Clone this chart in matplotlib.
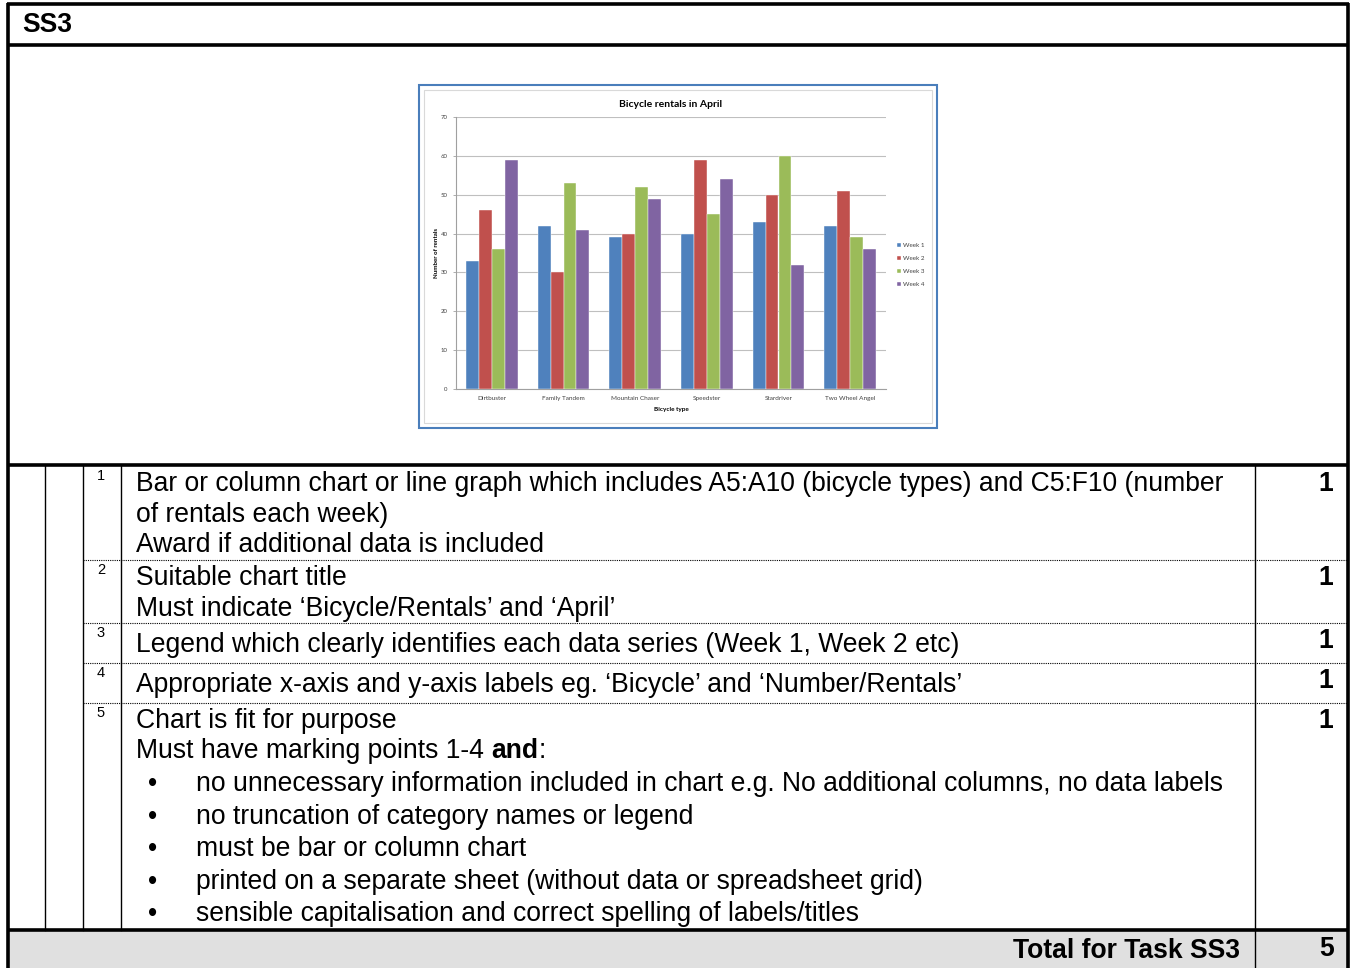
import matplotlib
matplotlib.use("Agg")
import matplotlib.pyplot as plt
import numpy as np
from matplotlib.patches import Rectangle

# ---------------- data ----------------
categories = ["Dirtbuster", "Family Tandem", "Mountain Chaser", "Speedster", "Stardriver", "Two Wheel Angel"]
series_names = ["Week 1", "Week 2", "Week 3", "Week 4"]
week1 = [33, 42, 39, 40, 43, 42]
week2 = [46, 30, 40, 59, 50, 51]
week3 = [36, 53, 52, 45, 60, 39]
week4 = [59, 41, 49, 54, 32, 36]
y_ticks = [0, 10, 20, 30, 40, 50, 60, 70]
chart_title = "Bicycle rentals in April"
x_label = "Bicycle type"
y_label = "Number of rentals"
colors = ["#4F81BD", "#C0504D", "#9BBB59", "#8064A2"]

W, H = 1354, 968
fig = plt.figure(figsize=(W / 100, H / 100), dpi=100)
ax = fig.add_axes([0, 0, 1, 1])
ax.set_xlim(0, W)
ax.set_ylim(H, 0)
ax.axis("off")

TF = "Liberation Sans"
FS = 19.1
thick = 2.6
thin = 1.0

# total row fill
ax.add_patch(Rectangle((8, 931), 1340, 40, facecolor="#e0e0e0", edgecolor="none", zorder=0))

# outer borders
ax.plot([8, 8], [3, 968], color="black", lw=thick, solid_capstyle="butt")
ax.plot([1348, 1348], [3, 968], color="black", lw=thick, solid_capstyle="butt")
for y in [4, 45, 465, 930]:
    ax.plot([7, 1349], [y, y], color="black", lw=thick, solid_capstyle="butt")
for x in [45, 83, 121]:
    ax.plot([x, x], [465, 930], color="black", lw=thin)
ax.plot([1255, 1255], [465, 968], color="black", lw=thin)
for y in [560, 623, 663, 703]:
    ax.plot([83, 1348], [y, y], color="black", lw=0.8, linestyle=(0, (1, 1)))

ax.text(22, 25, "SS3", fontsize=FS, fontweight="bold", family=TF, va="center", ha="left")

def body(x, y, s, **kw):
    return ax.text(x, y, s, fontsize=FS, family=TF, va="center", ha="left", **kw)

def sup(y, s):
    ax.text(101, y, s, fontsize=10.5, family=TF, va="center", ha="center")

def mark(y, s="1"):
    ax.text(1333, y, s, fontsize=FS, family=TF, fontweight="bold", va="center", ha="right")

TX = 136
sup(476, "1")
body(TX, 484, "Bar or column chart or line graph which includes A5:A10 (bicycle types) and C5:F10 (number")
body(TX, 515, "of rentals each week)")
body(TX, 545, "Award if additional data is included")
mark(484)

sup(570, "2")
body(TX, 578, "Suitable chart title")
body(TX, 609, "Must indicate \u2018Bicycle/Rentals\u2019 and \u2018April\u2019")
mark(578)

sup(633, "3")
body(TX, 645, "Legend which clearly identifies each data series (Week 1, Week 2 etc)")
mark(641)

sup(673, "4")
body(TX, 685, "Appropriate x-axis and y-axis labels eg. \u2018Bicycle\u2019 and \u2018Number/Rentals\u2019")
mark(681)

sup(713, "5")
body(TX, 721, "Chart is fit for purpose")
mark(721)
t1 = body(TX, 751, "Must have marking points 1-4 ")
t2 = ax.annotate("and", xy=(1, 0), xycoords=t1, fontsize=FS, family=TF, fontweight="bold",
                 va="bottom", ha="left")
ax.annotate(":", xy=(1, 0), xycoords=t2, fontsize=FS, family=TF, va="bottom", ha="left")

bullets = [
    (784, "no unnecessary information included in chart e.g. No additional columns, no data labels"),
    (817, "no truncation of category names or legend"),
    (849, "must be bar or column chart"),
    (882, "printed on a separate sheet (without data or spreadsheet grid)"),
    (914, "sensible capitalisation and correct spelling of labels/titles"),
]
for y, s in bullets:
    ax.text(153, y, "\u2022", fontsize=FS, family=TF, va="center", ha="center")
    body(196, y, s)

ax.text(1240, 951, "Total for Task SS3", fontsize=FS, family=TF, fontweight="bold", va="center", ha="right")
ax.text(1334, 949, "5", fontsize=FS, family=TF, fontweight="bold", va="center", ha="right")

# ---------------- embedded chart ----------------
ax.add_patch(Rectangle((419, 85), 518, 343, facecolor="white", edgecolor="#4A7EBB", lw=1.5, zorder=1))
ax.add_patch(Rectangle((424, 90), 508, 333, facecolor="white", edgecolor="#D9D9D9", lw=0.8, zorder=1))

CF = "Lato"
px_l, px_r, px_top, px_bot = 456, 886, 117, 389
cax = fig.add_axes([px_l / W, 1 - px_bot / H, (px_r - px_l) / W, (px_bot - px_top) / H])
cax.set_facecolor("none")
x = np.arange(len(categories))
bw = 0.18
data = [week1, week2, week3, week4]
for i, (vals, name, c) in enumerate(zip(data, series_names, colors)):
    cax.bar(x + (i - 1.5) * bw, vals, width=bw, color=c, label=name, zorder=3,
            edgecolor="white", linewidth=0.3)
cax.set_xlim(-0.5, len(categories) - 0.5)
cax.set_ylim(0, 70)
cax.set_yticks(y_ticks)
cax.set_yticklabels([str(v) for v in y_ticks], fontsize=4.3, family=CF, color="#404040")
cax.set_xticks(x)
cax.set_xticklabels(categories, fontsize=4.6, family=CF, color="#404040")
cax.yaxis.grid(True, color="#BFBFBF", lw=0.8, zorder=0)
for s in ["top", "right"]:
    cax.spines[s].set_visible(False)
cax.spines["left"].set_color("#A0A0A0")
cax.spines["bottom"].set_color("#A0A0A0")
cax.spines["left"].set_linewidth(0.8)
cax.spines["bottom"].set_linewidth(0.8)
cax.tick_params(axis="y", length=2, width=0.6, color="#A0A0A0", pad=4)
cax.tick_params(axis="x", length=0, pad=5)
cax.set_xlabel(x_label, fontsize=4.6, family=CF, fontweight="bold", labelpad=4)
cax.set_ylabel(y_label, fontsize=4.4, family=CF, fontweight="bold", labelpad=1)
cax.set_title(chart_title, fontsize=7.5, family=CF, fontweight="bold", pad=7)
leg = cax.legend(loc="center left", bbox_to_anchor=(1.02, 0.455), frameon=False,
                 prop={"family": CF, "size": 4.5}, handlelength=0.6, handleheight=0.6,
                 handletextpad=0.3, labelspacing=1.25, borderaxespad=0)
for t in leg.get_texts():
    t.set_color("#404040")

fig.savefig("out.png", dpi=100)
